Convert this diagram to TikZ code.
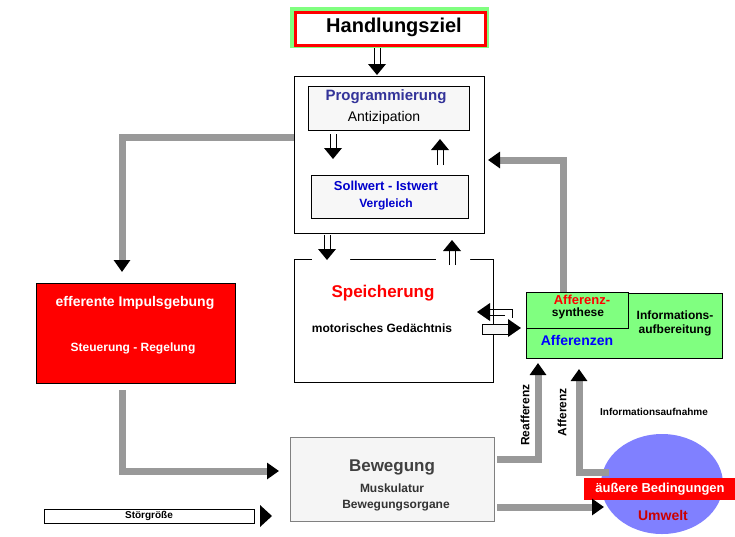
\documentclass[tikz,border=0pt]{standalone}
\usepackage{fontspec}
\setmainfont{Liberation Sans}
\usetikzlibrary{arrows.meta,shapes.geometric}
\definecolor{gline}{HTML}{999999}
\definecolor{lgreen}{HTML}{80FF80}
\definecolor{navy}{HTML}{333399}
\definecolor{lblue}{HTML}{8080FF}
\newcommand{\dnarr}[3]{\draw[thin] (#1-3,#2) -- (#1-3,#3-10) (#1+3,#2) -- (#1+3,#3-10);
  \fill (#1-9,#3-11) -- (#1+9,#3-11) -- (#1,#3) -- cycle;}
\newcommand{\uparr}[3]{\draw[thin] (#1-3,#2) -- (#1-3,#3+10) (#1+3,#2) -- (#1+3,#3+10);
  \fill (#1-9,#3+11) -- (#1+9,#3+11) -- (#1,#3) -- cycle;}
\begin{document}
\begin{tikzpicture}[x=1pt,y=-1pt,
  box/.style={draw,line width=0.8pt,anchor=north west,inner sep=0},
  glin/.style={gline,line width=7pt,-{Triangle[color=black,length=12pt,width=16pt]}},
  t/.style={font=\bfseries\fontsize{12}{14}\selectfont,align=center}]
\useasboundingbox (0,0) rectangle (735,536);
% Handlungsziel
\fill[lgreen] (290,7) rectangle (489,48);
\node[draw=red,line width=2.5pt,fill=white,minimum width=190pt,minimum height=33pt,anchor=north west] (hz) at (294,11) {};
\node[font=\bfseries\fontsize{20}{22}\selectfont] at (394,27) {Handlungsziel};
\dnarr{377}{48}{75}
% big box
\draw[line width=0.8pt] (294,76) rectangle (484,233);
\node[box,fill=black!3,minimum width=161pt,minimum height=44pt] (prog) at (308,86) {};
\node[t,text=navy,font=\bfseries\fontsize{15}{17}\selectfont] at (386,97) {Programmierung};
\node[t,font=\fontsize{14}{16}\selectfont] at (384,118) {Antizipation};
\dnarr{333}{134}{159}
\uparr{440}{165}{139}
\node[box,fill=black!3,minimum width=157pt,minimum height=43pt] (soll) at (311,175) {};
\node[t,text=blue!80!black,font=\bfseries\fontsize{13}{15}\selectfont] at (386,186) {Sollwert - Istwert};
\node[t,text=blue!80!black,font=\bfseries\fontsize{12}{14}\selectfont] at (386,204) {Vergleich};
% Speicherung
\node[box,fill=white,minimum width=199pt,minimum height=123pt] (sp) at (294,259) {};
\fill[white] (312,255) rectangle (350,264) (436,255) rectangle (470,264);
\dnarr{327}{235}{260}
\uparr{452}{265}{240}
\node[t,text=red,font=\bfseries\fontsize{17}{19}\selectfont] at (383,293) {Speicherung};
\node[t] at (382,328) {motorisches Gedächtnis};
% left/right arrows
\draw[thin] (488,309) -- (512,309) -- (512,318) (488,315) -- (505,315);
\fill (490,303) -- (490,321) -- (477,312) -- cycle;
\draw[thin,fill=black!3] (482,324) rectangle (510,334);
\fill (508,319) -- (508,337) -- (521,328) -- cycle;
% green boxes
\node[box,fill=lgreen,minimum width=196pt,minimum height=65pt] (info) at (526,293) {};
\node[box,fill=lgreen,minimum width=102pt,minimum height=36pt] (syn) at (526,292) {};
\node[t,text=red,font=\bfseries\fontsize{13}{15}\selectfont] at (582,300) {Afferenz-};
\node[t] at (578,313) {synthese};
\node[t,text=blue,font=\bfseries\fontsize{14}{16}\selectfont] at (577,340) {Afferenzen};
\node[t,align=center] at (675,323) {Informations-\\aufbereitung};
% feedback gray lines
\draw[glin] (563,292) -- (563,160) -- (488,160);
\draw[glin] (294,137) -- (122,137) -- (122,272);
% efferente
\node[box,fill=red,minimum width=199pt,minimum height=100pt] (eff) at (36,283) {};
\node[t,text=white,font=\bfseries\fontsize{14}{16}\selectfont] at (135,303) {efferente Impulsgebung};
\node[t,text=white] at (133,348) {Steuerung - Regelung};
\draw[glin] (122,390) -- (122,471) -- (279,471);
% Bewegung
\node[box,draw=gray,fill=black!4,minimum width=204pt,minimum height=84pt] (bew) at (290,437) {};
\node[t,text=black!75,font=\bfseries\fontsize{17}{19}\selectfont] at (392,467) {Bewegung};
\node[t,text=black!80] at (392,488) {Muskulatur};
\node[t,text=black!80] at (396,506) {Bewegungsorgane};
% ellipse
\node[ellipse,fill=lblue,minimum width=122pt,minimum height=100pt] (umw) at (662,484) {};
\fill[red] (584,478) rectangle (735,500);
\node[t,text=white,font=\bfseries\fontsize{13}{15}\selectfont] at (660,489) {äußere Bedingungen};
\node[t,text=red!80!black,font=\bfseries\fontsize{14}{16}\selectfont] at (663,515) {Umwelt};
% afferent lines
\draw[glin] (497,459) -- (538,459) -- (538,363);
\draw[glin] (609,472) -- (579,472) -- (579,369);
\node[t,rotate=90,font=\bfseries\fontsize{12}{14}\selectfont] at (525,415) {Reafferenz};
\node[t,rotate=90,font=\bfseries\fontsize{12}{14}\selectfont] at (562,412) {Afferenz};
\node[t,font=\bfseries\fontsize{10}{12}\selectfont] at (654,412) {Informationsaufnahme};
\draw[glin] (497,507) -- (604,507);
% Störgröße
\node[box,fill=white,minimum width=210pt,minimum height=14pt] (st) at (44,509) {};
\node[t,font=\bfseries\fontsize{10}{12}\selectfont] at (149,516) {Störgröße};
\fill (260,505) -- (260,527) -- (272,516) -- cycle;
\end{tikzpicture}
\end{document}
